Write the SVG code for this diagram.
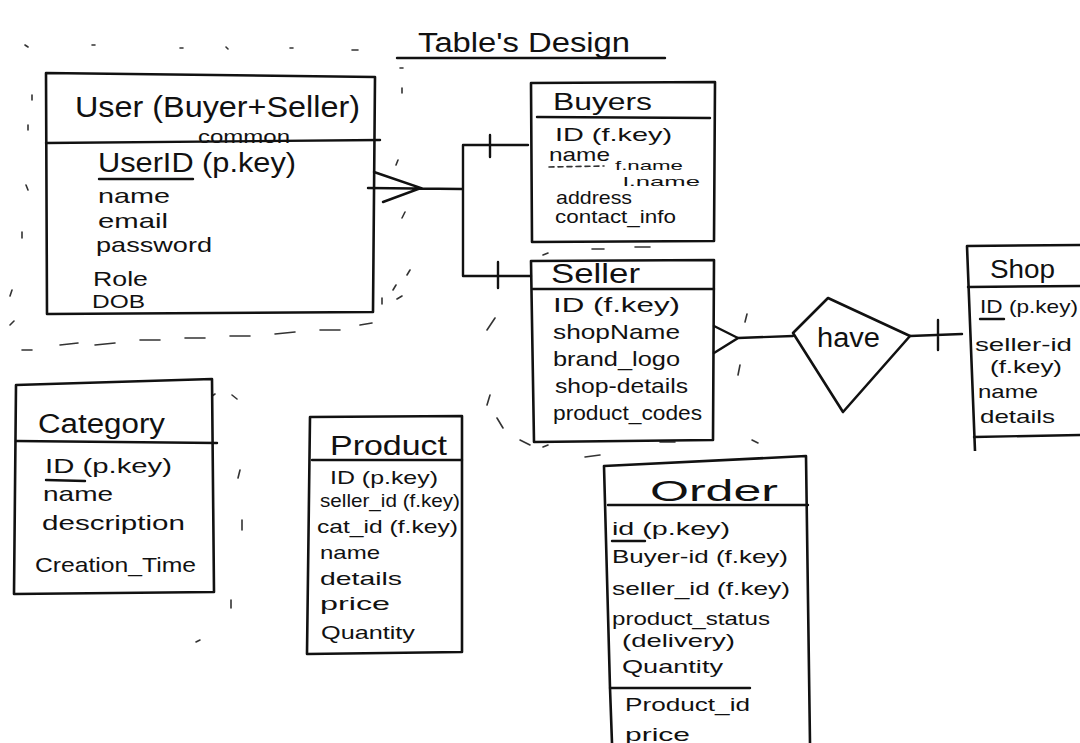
<svg xmlns="http://www.w3.org/2000/svg" width="1080" height="743" viewBox="0 0 1080 743">
<style>
.box{fill:none;stroke:#111;stroke-width:2.6;stroke-linejoin:round}
.ln{fill:none;stroke:#111;stroke-width:2.4;stroke-linecap:round}
.mk{fill:none;stroke:#333;stroke-width:1.6;stroke-linecap:round}
text{font-family:"Liberation Sans","DejaVu Sans",sans-serif;fill:#111}
.t{font-size:27px}
.a{font-size:21px}
.s{font-size:19px}
</style>
<rect width="1080" height="743" fill="#fff"/>
<g id="title">
<text x="418" y="52" font-size="27" textLength="212" lengthAdjust="spacingAndGlyphs">Table's Design</text>
<path class="ln" d="M397 58 L665 58"/>
</g>
<g id="marks">
<path class="mk" d="M25 45 l3 2 M92 45 l3 0 M180 48 l3 0 M226 47 l2 2 M290 48 l3 0 M352 50 l6 0 M400 68 l3 0 M32 95 l0 5 M28 125 l0 5 M26 185 l2 5 M22 232 l0 6 M12 290 l-2 6 M10 325 l4 -4 M22 350 l10 0 M60 345 l18 -2 M95 345 l20 -2 M140 340 l20 0 M185 338 l20 0 M230 336 l20 0 M275 334 l20 -2 M320 330 l20 0 M360 325 l12 -2 M402 88 l0 5 M398 160 l-2 5 M405 212 l-3 6 M410 270 l-3 5 M396 285 l-3 5 M402 296 l-5 3 M382 298 l0 6 M232 395 l5 4 M212 396 l3 -2 M240 470 l-2 8 M242 520 l0 10 M231 600 l0 8 M200 640 l-4 2 M495 318 l-8 12 M490 395 l-3 10 M497 418 l6 10 M520 440 l10 5 M548 253 l-5 2 M592 249 l12 0 M635 247 l15 0 M585 457 l15 -2 M660 442 l15 0 M543 447 l5 -2 M752 440 l6 3 M747 314 l-2 8 M740 365 l-2 10"/>
</g>
<g id="user">
<path class="box" d="M46 73 L375 77 L373 312 L47 314 Z"/>
<path class="ln" d="M46 143 L380 140"/>
<text x="75" y="117" font-size="29" textLength="285" lengthAdjust="spacingAndGlyphs">User (Buyer+Seller)</text>
<text x="198" y="143" font-size="18" textLength="92" lengthAdjust="spacingAndGlyphs">common</text>
<text class="t" x="98" y="172" textLength="198" lengthAdjust="spacingAndGlyphs">UserID (p.key)</text>
<path class="ln" d="M99 179 L193 179"/>
<text class="a" x="98" y="203" textLength="72" lengthAdjust="spacingAndGlyphs">name</text>
<text class="a" x="98" y="228" textLength="70" lengthAdjust="spacingAndGlyphs">email</text>
<text class="a" x="96" y="252" textLength="116" lengthAdjust="spacingAndGlyphs">password</text>
<text x="93" y="286" font-size="20" textLength="55" lengthAdjust="spacingAndGlyphs">Role</text>
<text x="92" y="308" font-size="18" textLength="53" lengthAdjust="spacingAndGlyphs">DOB</text>
</g>
<g id="buyers">
<path class="box" d="M531 83 L715 82 L714 241 L532 242 Z"/>
<path class="ln" d="M537 117 L710 118"/>
<text x="553" y="110" font-size="24" textLength="99" lengthAdjust="spacingAndGlyphs">Buyers</text>
<text class="s" x="555" y="141" textLength="117" lengthAdjust="spacingAndGlyphs">ID (f.key)</text>
<text class="s" x="549" y="161" textLength="61" lengthAdjust="spacingAndGlyphs">name</text>
<path class="mk" d="M549 167 L604 166" stroke-dasharray="5 4"/>
<text x="615" y="170" font-size="13" textLength="68" lengthAdjust="spacingAndGlyphs">f.name</text>
<text x="623" y="186" font-size="13" textLength="77" lengthAdjust="spacingAndGlyphs">l.name</text>
<text class="s" x="556" y="204" textLength="76" lengthAdjust="spacingAndGlyphs">address</text>
<text class="s" x="555" y="223" textLength="121" lengthAdjust="spacingAndGlyphs">contact_info</text>
</g>
<g id="seller">
<path class="box" d="M531 261 L714 260 L713 440 L534 442 Z"/>
<path class="ln" d="M533 289 L714 289"/>
<text class="t" x="551" y="283" textLength="89" lengthAdjust="spacingAndGlyphs">Seller</text>
<text class="a" x="553" y="312" textLength="127" lengthAdjust="spacingAndGlyphs">ID (f.key)</text>
<text class="a" x="553" y="339" textLength="127" lengthAdjust="spacingAndGlyphs">shopName</text>
<text class="a" x="553" y="366" textLength="127" lengthAdjust="spacingAndGlyphs">brand_logo</text>
<text class="a" x="555" y="393" textLength="133" lengthAdjust="spacingAndGlyphs">shop-details</text>
<text class="a" x="553" y="420" textLength="149" lengthAdjust="spacingAndGlyphs">product_codes</text>
</g>
<g id="have">
<path class="box" d="M793 333 L828 298 L910 336 L843 412 Z"/>
<text class="t" x="817" y="347" textLength="63" lengthAdjust="spacingAndGlyphs">have</text>
</g>
<g id="shop">
<path class="box" d="M1080 245 L967 246 L975 451"/>
<path class="ln" d="M968 287 L1080 286 M974 437 L1080 435"/>
<text x="990" y="278" font-size="25" textLength="65" lengthAdjust="spacingAndGlyphs">Shop</text>
<text class="s" x="980" y="313" textLength="98" lengthAdjust="spacingAndGlyphs">ID (p.key)</text>
<path class="ln" d="M980 319 L1004 319"/>
<text class="s" x="975" y="351" textLength="97" lengthAdjust="spacingAndGlyphs">seller-id</text>
<text class="s" x="990" y="373" textLength="72" lengthAdjust="spacingAndGlyphs">(f.key)</text>
<text class="s" x="978" y="398" textLength="60" lengthAdjust="spacingAndGlyphs">name</text>
<text class="s" x="980" y="423" textLength="75" lengthAdjust="spacingAndGlyphs">details</text>
</g>
<g id="category">
<path class="box" d="M16 385 L212 379 L214 592 L14 594 Z"/>
<path class="ln" d="M16 441 L217 443"/>
<text class="t" x="38" y="433" textLength="127" lengthAdjust="spacingAndGlyphs">Category</text>
<text class="a" x="45" y="473" textLength="127" lengthAdjust="spacingAndGlyphs">ID (p.key)</text>
<path class="ln" d="M46 480 L85 481"/>
<text class="a" x="43" y="501" textLength="70" lengthAdjust="spacingAndGlyphs">name</text>
<text class="a" x="42" y="530" textLength="143" lengthAdjust="spacingAndGlyphs">description</text>
<text class="a" x="35" y="572" textLength="161" lengthAdjust="spacingAndGlyphs">Creation_Time</text>
</g>
<g id="product">
<path class="box" d="M310 417 L462 416 L462 652 L307 654 Z"/>
<path class="ln" d="M312 460 L462 460"/>
<text x="330" y="455" font-size="28" textLength="117" lengthAdjust="spacingAndGlyphs">Product</text>
<text class="s" x="330" y="484" textLength="108" lengthAdjust="spacingAndGlyphs">ID (p.key)</text>
<text class="s" x="320" y="507" textLength="140" lengthAdjust="spacingAndGlyphs">seller_id (f.key)</text>
<text class="s" x="317" y="533" textLength="141" lengthAdjust="spacingAndGlyphs">cat_id (f.key)</text>
<text class="s" x="320" y="559" textLength="60" lengthAdjust="spacingAndGlyphs">name</text>
<text class="s" x="320" y="585" textLength="82" lengthAdjust="spacingAndGlyphs">details</text>
<text class="s" x="320" y="610" textLength="70" lengthAdjust="spacingAndGlyphs">price</text>
<text class="s" x="321" y="639" textLength="94" lengthAdjust="spacingAndGlyphs">Quantity</text>
</g>
<g id="order">
<path class="box" d="M612 743 L610 688 L604 466 L806 456 L810 743"/>
<path class="ln" d="M608 505 L808 505 M610 688 L750 688"/>
<text x="650" y="501" font-size="30" textLength="128" lengthAdjust="spacingAndGlyphs">Order</text>
<text class="s" x="612" y="535" textLength="118" lengthAdjust="spacingAndGlyphs">id (p.key)</text>
<path class="ln" d="M612 541 L645 541"/>
<text class="s" x="612" y="563" textLength="176" lengthAdjust="spacingAndGlyphs">Buyer-id (f.key)</text>
<text class="s" x="612" y="595" textLength="178" lengthAdjust="spacingAndGlyphs">seller_id (f.key)</text>
<text class="s" x="612" y="625" textLength="158" lengthAdjust="spacingAndGlyphs">product_status</text>
<text class="s" x="622" y="647" textLength="113" lengthAdjust="spacingAndGlyphs">(delivery)</text>
<text class="s" x="622" y="673" textLength="101" lengthAdjust="spacingAndGlyphs">Quantity</text>
<text class="s" x="625" y="711" textLength="125" lengthAdjust="spacingAndGlyphs">Product_id</text>
<text class="s" x="625" y="741" textLength="65" lengthAdjust="spacingAndGlyphs">price</text>
</g>
<g id="connectors">
<path class="ln" d="M374 172 L421 188 L383 202 M368 188 L462 189"/>
<path class="ln" d="M463 145 L463 276 M463 145 L528 145 M463 276 L531 276"/>
<path class="ln" d="M490 135 L490 157 M498 262 L498 288"/>
<path class="ln" d="M714 326 L738 338 L714 353 M738 338 L793 336"/>
<path class="ln" d="M910 336 L962 334 M938 320 L938 350"/>
</g>
</svg>
